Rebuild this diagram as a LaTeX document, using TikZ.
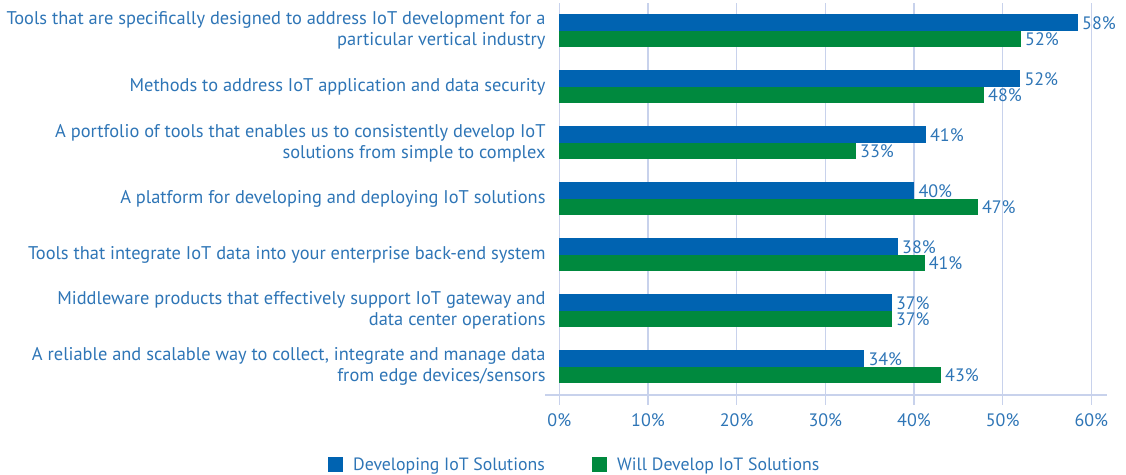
\documentclass[tikz,border=0pt]{standalone}
\usepackage{fontspec}
\setmainfont{PT Sans}
\definecolor{txt}{RGB}{46,117,182}
\definecolor{bblue}{RGB}{0,99,177}
\definecolor{bgreen}{RGB}{0,137,62}
\definecolor{gridc}{RGB}{200,210,236}
\begin{document}
\begin{tikzpicture}[x=1pt,y=-1pt,
  font=\fontsize{18}{21}\selectfont,
  lbl/.style={anchor=east, align=right, text=txt, inner sep=0pt, font=\fontsize{18.4}{21}\selectfont},
  val/.style={anchor=west, text=txt, inner sep=0pt},
  tick/.style={anchor=center, text=txt, inner sep=0pt},
  gridline/.style={draw=gridc, line width=1.5pt},
  axisline/.style={draw=gridc, line width=2pt},
  bluebar/.style={fill=bblue},
  greenbar/.style={fill=bgreen},
  legtext/.style={anchor=base west, text=txt, inner sep=0pt, font=\fontsize{17.8}{21}\selectfont}]
\useasboundingbox (0,0) rectangle (1126,474);
% grid
\foreach \i in {0,...,6}{
  \draw[gridline] (559.3+88.67*\i,3) -- (559.3+88.67*\i,405);
  \pgfmathtruncatemacro{\pc}{10*\i}
  \node[tick] (t\i) at (559.3+88.67*\i,420) {\pc\%};
}
\coordinate (axl) at (545,394.5);
\coordinate (axr) at (1107,394.5);
\draw[axisline] (axl) -- (axr);
% bars
\foreach \i/\b/\g/\bl/\gl in {0/58.5/52.07/58/52, 1/52/47.9/52/48, 2/41.35/33.46/41/33, 3/40.04/47.2/40/47, 4/38.2/41.2/38/41, 5/37.5/37.5/37/37, 6/34.4/43.05/34/43}{
  \fill[bluebar] (559.3,14+56*\i) rectangle (559.3+8.867*\b,30.8+56*\i);
  \fill[greenbar] (559.3,30.8+56*\i) rectangle (559.3+8.867*\g,47+56*\i);
  \node[val] (vb\i) at (563.3+8.867*\b,23+56*\i) {\bl\%};
  \node[val] (vg\i) at (563.3+8.867*\g,39.5+56*\i) {\gl\%};
}
% category labels
\node[lbl] (c0) at (545.7,30.8) {Tools that are specifically designed to address IoT development for a\\particular vertical industry};
\node[lbl] (c1) at (545.7,86.8) {Methods to address IoT application and data security};
\node[lbl] (c2) at (545.7,142.8) {A portfolio of tools that enables us to consistently develop IoT\\solutions from simple to complex};
\node[lbl] (c3) at (545.7,198.8) {A platform for developing and deploying IoT solutions};
\node[lbl] (c4) at (545.7,254.8) {Tools that integrate IoT data into your enterprise back-end system};
\node[lbl] (c5) at (545.7,310.8) {Middleware products that effectively support IoT gateway and\\data center operations};
\node[lbl] (c6) at (545.7,366.8) {A reliable and scalable way to collect, integrate and manage data\\from edge devices/sensors};
% legend
\fill[bluebar] (327.5,457) rectangle (343,471.5);
\node[legtext] (l1) at (353,470) {Developing IoT Solutions};
\fill[greenbar] (592,457) rectangle (606.5,471.5);
\node[legtext] (l2) at (617,470) {Will Develop IoT Solutions};
\end{tikzpicture}
\end{document}
